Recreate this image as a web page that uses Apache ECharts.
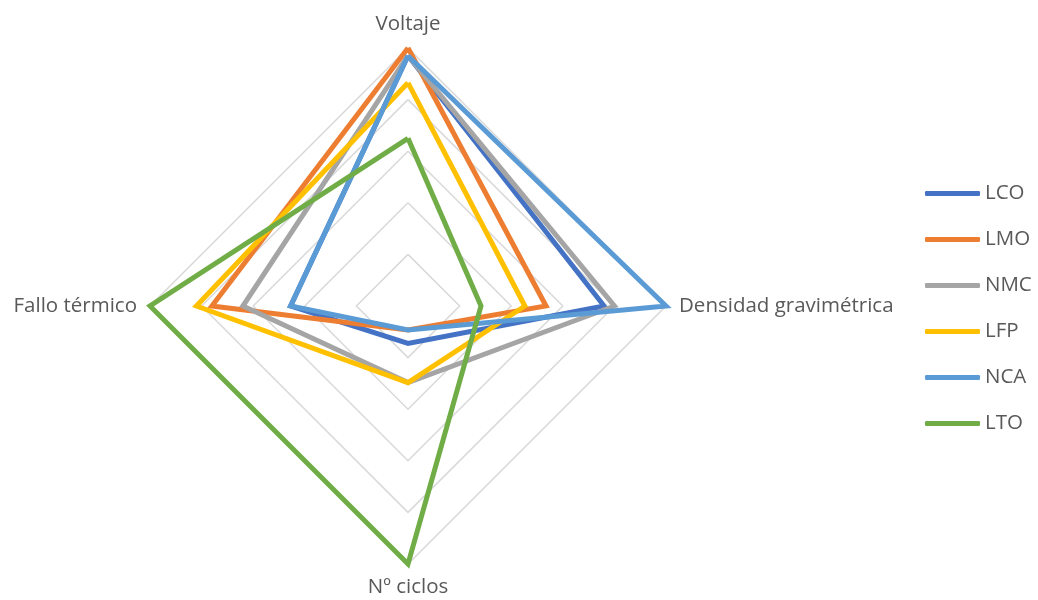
<!DOCTYPE html>
<html>
<head>
<meta charset="utf-8">
<title>Comparativa de químicas de ion-litio</title>
<script src="https://cdn.jsdelivr.net/npm/echarts@6/dist/echarts.min.js"></script>
<style>
  html, body { margin: 0; padding: 0; background: #ffffff; }
  #chart { width: 1038px; height: 600px; }
</style>
</head>
<body>
<div id="chart"></div>
<script>
// Axes, listed clockwise from the top
const categories = ['Voltaje', 'Densidad gravimétrica', 'Nº ciclos', 'Fallo térmico'];

// Normalised scores (0–1) per chemistry, same order as categories
const seriesNames = ['LCO', 'LMO', 'NMC', 'LFP', 'NCA', 'LTO'];
const LCO = [0.97, 0.76, 0.145, 0.455];
const LMO = [1.0, 0.535, 0.093, 0.76];
const NMC = [0.97, 0.80, 0.297, 0.64];
const LFP = [0.865, 0.453, 0.297, 0.82];
const NCA = [0.97, 1.0, 0.093, 0.455];
const LTO = [0.65, 0.283, 1.0, 1.0];
const seriesValues = [LCO, LMO, NMC, LFP, NCA, LTO];

const colors = ['#4472C4', '#ED7D31', '#A5A5A5', '#FFC000', '#5B9BD5', '#70AD47'];
const FONT = 'Open Sans, Noto Sans, sans-serif';

// ECharts lays indicators out counter-clockwise from the top,
// so reverse the order after the first axis.
const order = [0, 3, 2, 1];
const indicator = order.map(i => ({ name: categories[i], min: 0, max: 1 }));

const chart = echarts.init(document.getElementById('chart'), null, { renderer: 'canvas' });

chart.setOption({
  backgroundColor: '#ffffff',
  animation: false,
  color: colors,
  legend: {
    orient: 'vertical',
    left: 925,
    top: 183,
    padding: 0,
    itemWidth: 55,
    itemHeight: 5,
    itemGap: 25,
    icon: 'roundRect',
    data: seriesNames,
    textStyle: { color: '#595959', fontSize: 20.5, lineHeight: 20, fontFamily: FONT }
  },
  radar: {
    center: [408, 306],
    radius: 258,
    startAngle: 90,
    shape: 'polygon',
    splitNumber: 5,
    indicator: indicator,
    axisName: { color: '#595959', fontSize: 20.5, fontFamily: FONT },
    nameGap: 13,
    axisLine: { show: false },
    axisTick: { show: false },
    axisLabel: { show: false },
    splitArea: { show: false },
    splitLine: { lineStyle: { color: '#D9D9D9', width: 1.5 } }
  },
  series: seriesNames.map((name, k) => ({
    name: name,
    type: 'radar',
    symbol: 'none',
    lineStyle: { width: 5, color: colors[k], join: 'miter' },
    itemStyle: { color: colors[k] },
    data: [{ name: name, value: order.map(i => seriesValues[k][i]) }]
  }))
});
</script>
</body>
</html>
